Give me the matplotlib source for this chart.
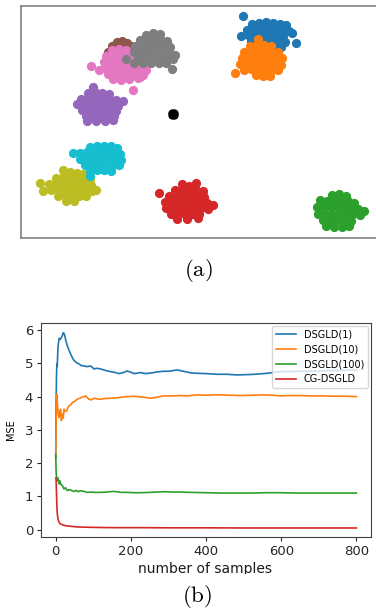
import numpy as np
import matplotlib
matplotlib.use("Agg")
import matplotlib.pyplot as plt
from matplotlib.patches import Rectangle

plt.rcParams['mathtext.fontset'] = 'cm'

# ---- panel (a): cluster points (pixel-like units, y down)
blue_pts = [(243, 16),
            (252, 24), (259, 23), (266, 22), (273, 23), (280, 24), (286, 25),
            (247, 30), (254, 29), (261, 29), (268, 28), (275, 29), (282, 30), (289, 31),
            (241, 36), (248, 35), (255, 35), (262, 34), (269, 34), (276, 35), (283, 36), (292, 33),
            (251, 41), (258, 40), (265, 40), (272, 41), (279, 41), (285, 42), (296, 43),
            (268, 46), (275, 47), (281, 47)]
orange_pts = [(258, 39),
              (250, 46), (257, 45), (264, 45), (271, 46),
              (244, 52), (251, 51), (258, 51), (265, 51), (272, 52), (278, 52),
              (242, 58), (249, 57), (256, 57), (263, 57), (270, 57), (277, 58), (282, 58),
              (240, 64), (247, 63), (254, 63), (261, 63), (268, 63), (275, 64), (281, 65),
              (244, 70), (251, 69), (258, 69), (265, 69), (272, 70), (278, 70),
              (235, 73), (256, 75), (263, 76), (270, 76)]
green_pts = [(332, 195), (339, 194), (346, 196),
             (320, 200), (327, 201), (334, 200), (341, 200), (348, 201), (354, 203),
             (317, 207), (324, 207), (331, 207), (338, 207), (345, 207), (352, 208), (358, 209), (364, 211),
             (318, 214), (325, 214), (332, 214), (339, 214), (346, 214), (353, 214), (360, 215),
             (323, 220), (330, 220), (337, 220), (344, 221), (351, 221),
             (326, 226), (334, 227), (342, 227), (349, 226)]
red_pts = [(159, 193),
           (182, 184), (196, 183), (189, 186),
           (175, 190), (182, 190), (189, 190), (196, 190), (203, 191),
           (169, 196), (176, 196), (183, 196), (190, 196), (197, 196), (204, 197),
           (165, 202), (172, 202), (179, 202), (186, 202), (193, 202), (200, 202), (207, 203), (213, 205),
           (166, 208), (173, 208), (180, 208), (187, 208), (194, 208), (201, 208), (208, 209),
           (171, 214), (178, 214), (185, 214), (192, 214), (199, 214),
           (177, 219), (187, 219), (198, 218)]
purple_pts = [(93, 87),
              (88, 93), (95, 92), (102, 93), (109, 94),
              (81, 99), (88, 98), (95, 98), (102, 98), (109, 99), (116, 100), (123, 101),
              (77, 104), (84, 104), (91, 104), (98, 104), (105, 104), (112, 105), (118, 106),
              (82, 110), (89, 110), (96, 110), (103, 110), (110, 110), (116, 111),
              (86, 116), (93, 116), (100, 116), (107, 116), (114, 116),
              (87, 121), (96, 121), (105, 121), (113, 120)]
brown_pts = [(108, 52), (112, 46), (117, 42), (122, 41), (127, 43), (131, 46),
             (118, 46), (125, 47), (110, 55)]
pink_pts = [(112, 50), (119, 49), (126, 50),
            (106, 56), (113, 55), (120, 55), (127, 55), (134, 56),
            (104, 62), (111, 61), (118, 61), (125, 61), (132, 62), (139, 62),
            (105, 68), (112, 67), (119, 67), (126, 67), (133, 68), (140, 69), (146, 70),
            (108, 74), (115, 73), (122, 73), (129, 74), (136, 74), (143, 75),
            (113, 79), (121, 80), (129, 79), (138, 78),
            (91, 66), (99, 70), (133, 90), (140, 77)]
gray_pts = [(153, 33), (160, 34), (146, 35),
            (140, 40), (147, 39), (154, 39), (161, 40), (167, 41),
            (135, 46), (142, 45), (149, 45), (156, 45), (163, 46), (170, 47),
            (134, 52), (141, 51), (148, 51), (155, 51), (162, 52), (169, 53), (175, 55),
            (138, 58), (145, 57), (152, 57), (159, 58), (166, 58), (173, 59),
            (134, 63), (143, 63), (151, 63), (159, 63), (166, 63),
            (126, 59), (172, 69)]
olive_pts = [(63, 170), (70, 172), (77, 173), (83, 174),
             (56, 178), (63, 177), (70, 177), (77, 178), (84, 178), (90, 179),
             (49, 184), (56, 183), (63, 183), (70, 183), (77, 183), (84, 184), (91, 185),
             (40, 183), (43, 191), (96, 190),
             (51, 190), (58, 189), (65, 189), (72, 189), (79, 189), (86, 190), (92, 191),
             (58, 196), (65, 195), (72, 195), (79, 196), (86, 196),
             (66, 201), (74, 201)]
cyan_pts = [(90, 147), (97, 146), (104, 146), (111, 146), (117, 148),
            (73, 153), (80, 153), (87, 152), (94, 152), (101, 152), (108, 152), (115, 153), (120, 154),
            (80, 159), (87, 158), (94, 158), (101, 158), (108, 158), (115, 159), (121, 160),
            (85, 165), (92, 164), (99, 164), (106, 164), (113, 165), (119, 165),
            (90, 171), (97, 170), (104, 170), (111, 171),
            (90, 176)]
center_pts = [(172, 113), (174, 113), (172, 115), (174, 115), (173, 114)]

clusters = [blue_pts, orange_pts, green_pts, red_pts, purple_pts,
            brown_pts, pink_pts, gray_pts, olive_pts, cyan_pts]

# ---- panel (b): MSE curves
x_d1 = [0, 1, 2, 3, 4, 6, 9, 12, 15, 18, 20, 22, 24, 27, 31, 35, 40, 45, 49, 55, 62, 68, 75, 84,
        93, 102, 110, 119, 128, 137, 150, 160, 168, 180, 190, 200, 208, 215, 225, 240, 255, 270,
        285, 300, 323, 340, 360, 376, 400, 429, 455, 482, 510, 530, 553, 570, 588, 610, 640, 670,
        700, 730, 760, 800]
y_d1 = [2.15, 3.8, 4.6, 4.98, 4.9, 5.5, 5.75, 5.72, 5.77, 5.85, 5.92, 5.9, 5.83, 5.68, 5.52, 5.4,
        5.27, 5.15, 5.08, 5.02, 4.98, 4.93, 4.92, 4.9, 4.92, 4.83, 4.85, 4.83, 4.8, 4.77, 4.74,
        4.72, 4.69, 4.72, 4.77, 4.73, 4.69, 4.70, 4.72, 4.69, 4.71, 4.74, 4.76, 4.76, 4.80, 4.76,
        4.71, 4.70, 4.69, 4.67, 4.67, 4.65, 4.66, 4.67, 4.69, 4.71, 4.74, 4.75, 4.76, 4.76, 4.77,
        4.78, 4.79, 4.80]

x_d10 = [0, 1, 2, 3, 5, 7, 9, 11, 13, 15, 18, 20, 22, 25, 29, 32, 35, 40, 44, 50, 57, 64, 71, 76,
         80, 84, 88, 95, 100, 106, 112, 119, 130, 146, 160, 181, 195, 208, 225, 240, 252, 270,
         287, 310, 330, 350, 376, 400, 420, 440, 464, 490, 520, 553, 580, 597, 620, 650, 680,
         710, 740, 770, 800]
y_d10 = [2.2, 3.2, 3.9, 4.07, 3.7, 3.45, 3.37, 3.55, 3.62, 3.28, 3.47, 3.35, 3.62, 3.55, 3.57,
         3.65, 3.72, 3.75, 3.82, 3.85, 3.92, 3.95, 3.99, 4.0, 4.02, 3.97, 3.92, 3.9, 3.94, 3.95,
         3.92, 3.92, 3.94, 3.95, 3.96, 3.99, 4.0, 4.01, 3.99, 3.97, 3.95, 3.98, 4.02, 4.02, 4.03,
         4.02, 4.05, 4.04, 4.05, 4.05, 4.04, 4.03, 4.04, 4.05, 4.04, 4.02, 4.03, 4.03, 4.02, 4.02,
         4.01, 4.01, 4.0]

x_d100 = [0, 1, 2, 4, 6, 9, 11, 14, 18, 22, 26, 31, 35, 40, 45, 49, 55, 60, 66, 75, 84, 95, 105,
          119, 135, 155, 175, 190, 210, 225, 250, 270, 290, 310, 330, 360, 400, 440, 480, 520,
          560, 600, 640, 680, 720, 760, 800]
y_d100 = [2.25, 1.75, 1.6, 1.47, 1.55, 1.37, 1.47, 1.35, 1.32, 1.22, 1.26, 1.17, 1.2, 1.19, 1.16,
          1.15, 1.18, 1.14, 1.17, 1.15, 1.12, 1.13, 1.12, 1.12, 1.13, 1.15, 1.12, 1.12, 1.11, 1.11,
          1.12, 1.13, 1.14, 1.13, 1.13, 1.12, 1.11, 1.10, 1.10, 1.10, 1.11, 1.11, 1.10, 1.10, 1.10,
          1.10, 1.10]

x_cg = [0, 1, 2, 3, 4, 6, 8, 10, 13, 17, 21, 26, 32, 40, 49, 60, 75, 93, 120, 160, 225, 300,
        400, 500, 600, 700, 800]
y_cg = [1.55, 1.5, 1.1, 0.75, 0.5, 0.32, 0.25, 0.2, 0.17, 0.15, 0.13, 0.12, 0.11, 0.1, 0.09,
        0.08, 0.075, 0.07, 0.065, 0.06, 0.06, 0.055, 0.055, 0.05, 0.05, 0.05, 0.05]

labels = ["DSGLD(1)", "DSGLD(10)", "DSGLD(100)", "CG-DSGLD"]

W, H = 376, 613
fig = plt.figure(figsize=(W / 100, H / 100), dpi=100)

# panel (a)
ax1 = fig.add_axes([20.7 / W, 1 - 237.7 / H, (380 - 20.7) / W, 232 / H])
for i, pts in enumerate(clusters):
    p = np.array(pts)
    ax1.scatter(p[:, 0], p[:, 1], s=44, color=f"C{i}", linewidths=0)
c = np.array(center_pts)
ax1.scatter(c[:, 0], c[:, 1], s=36, color="black", linewidths=0)
ax1.set_xlim(20.7, 380)
ax1.set_ylim(237.7, 5.7)
ax1.set_xticks([])
ax1.set_yticks([])
for sp in ax1.spines.values():
    sp.set_color("0.5")
    sp.set_linewidth(1.2)

fig.text(198 / W, 1 - 270 / H, r"$\mathrm{(a)}$", ha="center", va="center", fontsize=16.5)

# panel (b)
ax2 = fig.add_axes([40.7 / W, 1 - 537.3 / H, 330 / W, (537.3 - 322.7) / H])
for xs, ys, lab in zip([x_d1, x_d10, x_d100, x_cg], [y_d1, y_d10, y_d100, y_cg], labels):
    ax2.plot(xs, ys, lw=1.2, label=lab)
ax2.set_xlim(-40, 838)
ax2.set_ylim(-0.23, 6.22)
ax2.set_xticks([0, 200, 400, 600, 800])
ax2.set_yticks([0, 1, 2, 3, 4, 5, 6])
ax2.tick_params(labelsize=9.5, length=3, width=0.8, pad=2.5, colors="0.15")
for sp in ax2.spines.values():
    sp.set_color("0.25")
    sp.set_linewidth(0.8)
ax2.set_ylabel("MSE", fontsize=7, labelpad=6)
ax2.legend(loc="upper right", fontsize=7, borderaxespad=0.3)

# x label; the source figure has its lower part cut off, so mask it with a white strip
fig.text(205.5 / W, 1 - 573 / H, "number of samples", ha="center", va="baseline",
         fontsize=10, color="0.1", zorder=3)
fig.patches.append(Rectangle((120 / W, 1 - 580 / H), 170 / W, 6.5 / H,
                             transform=fig.transFigure, facecolor="white",
                             edgecolor="none", zorder=4))

fig.text(197 / W, 1 - 596.5 / H, r"$\mathrm{(b)}$", ha="center", va="center", fontsize=16.5)

fig.savefig("out.png", dpi=100)
